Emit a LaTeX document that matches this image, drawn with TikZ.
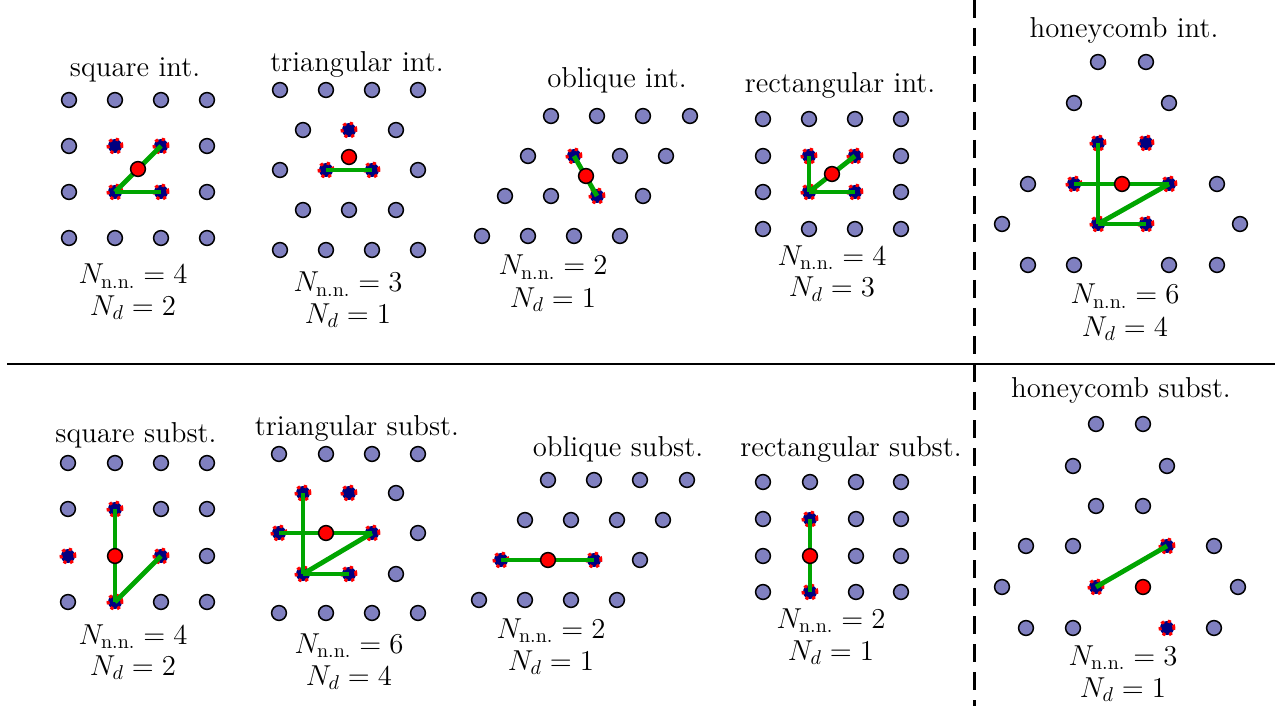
\documentclass[tikz,border=0pt]{standalone}
\usepackage{amsmath}
\definecolor{sitefill}{RGB}{128,128,192}
\definecolor{navyfill}{RGB}{0,0,128}
\definecolor{bondgreen}{RGB}{0,165,0}
\tikzset{
  site/.style={circle, draw=black, fill=sitefill, line width=0.75pt, minimum size=7.4pt, inner sep=0pt},
  nnsite/.style={circle, draw=red, fill=navyfill, dash pattern=on 1.6pt off 1.9pt, line width=1.5pt, minimum size=7pt, inner sep=0pt},
  defect/.style={circle, draw=black, fill=red, line width=0.75pt, minimum size=7.4pt, inner sep=0pt},
  bond/.style={draw=bondgreen, line width=2.4pt},
  ttl/.style={anchor=base, inner sep=0pt, font=\Large},
  eqn/.style={anchor=base, inner sep=0pt, font=\Large},
}
\begin{document}
\begin{tikzpicture}[x=0.5pt, y=-0.5pt]
\useasboundingbox (0,0) rectangle (1282,706);

% separators
\coordinate (hl) at (7,364);
\coordinate (hr) at (1275,364);
\coordinate (vt) at (974,0);
\coordinate (vb) at (974,706);
\draw[line width=1pt] (hl) -- (hr);
\draw[line width=1.5pt, dash pattern=on 9pt off 5pt] (vt) -- (vb);

% ---------- Panel 1: square int.
\foreach \x/\y [count=\k] in {69/100,115/100,161/100,207/100,69/146,207/146,69/192,207/192,69/238,115/238,161/238,207/238}
  \node[site] (a\k) at (\x,\y) {};
\node[nnsite] (a1n1) at (115,146) {};
\node[nnsite] (a1n2) at (161,146) {};
\node[nnsite] (a1n3) at (115,192) {};
\node[nnsite] (a1n4) at (161,192) {};
\draw[bond] (a1n3.center) -- (a1n2.center);
\draw[bond] (a1n3.center) -- (a1n4.center);
\node[defect] (a1d) at (138,169) {};
\node[ttl] (a1t) at (135,77) {square int.};
\node[eqn] (a1e) at (133,284) {$N_{\mathrm{n.n.}}=4$};
\node[eqn] (a1f) at (133,315) {$N_d=2$};

% ---------- Panel 2: triangular int.
\foreach \x/\y [count=\k] in {280/90,326/90,372/90,418/90,303/130,396/130,280/170,418/170,303/210,349/210,396/210,280/250,326/250,372/250,418/250}
  \node[site] (b\k) at (\x,\y) {};
\node[nnsite] (b1n1) at (349,130) {};
\node[nnsite] (b1n2) at (326,170) {};
\node[nnsite] (b1n3) at (372,170) {};
\draw[bond] (b1n2.center) -- (b1n3.center);
\node[defect] (b1d) at (349,157) {};
\node[ttl] (b1t) at (357,72) {triangular int.};
\node[eqn] (b1e) at (348,292) {$N_{\mathrm{n.n.}}=3$};
\node[eqn] (b1f) at (348,323) {$N_d=1$};

% ---------- Panel 3: oblique int.
\foreach \x/\y [count=\k] in {551/116,597/116,643/116,690/116,528/156,620/156,666/156,505/196,551/196,643/196,482/236,528/236,574/236,620/236}
  \node[site] (c\k) at (\x,\y) {};
\node[nnsite] (c1n1) at (574,156) {};
\node[nnsite] (c1n2) at (597,196) {};
\draw[bond] (c1n1.center) -- (c1n2.center);
\node[defect] (c1d) at (586,176) {};
\node[ttl] (c1t) at (617,88) {oblique int.};
\node[eqn] (c1e) at (553,275) {$N_{\mathrm{n.n.}}=2$};
\node[eqn] (c1f) at (553,307) {$N_d=1$};

% ---------- Panel 4: rectangular int.
\foreach \x/\y [count=\k] in {763/119,809/119,855/119,901/119,763/156,901/156,763/192,901/192,763/229,809/229,855/229,901/229}
  \node[site] (d\k) at (\x,\y) {};
\node[nnsite] (d1n1) at (809,156) {};
\node[nnsite] (d1n2) at (855,156) {};
\node[nnsite] (d1n3) at (809,192) {};
\node[nnsite] (d1n4) at (855,192) {};
\draw[bond] (d1n3.center) -- (d1n1.center);
\draw[bond] (d1n3.center) -- (d1n2.center);
\draw[bond] (d1n3.center) -- (d1n4.center);
\node[defect] (d1d) at (832,174) {};
\node[ttl] (d1t) at (840,93) {rectangular int.};
\node[eqn] (d1e) at (832,265) {$N_{\mathrm{n.n.}}=4$};
\node[eqn] (d1f) at (832,297) {$N_d=3$};

% ---------- Panel 5: honeycomb int.
\foreach \x/\y [count=\k] in {1098/62,1146/62,1074/103,1169/103,1028/184,1217/184,1002/224,1240/224,1028/265,1074/265,1169/265,1217/265}
  \node[site] (e\k) at (\x,\y) {};
\node[nnsite] (e1n1) at (1098,143) {};
\node[nnsite] (e1n2) at (1146,143) {};
\node[nnsite] (e1n3) at (1074,184) {};
\node[nnsite] (e1n4) at (1169,184) {};
\node[nnsite] (e1n5) at (1098,224) {};
\node[nnsite] (e1n6) at (1146,224) {};
\draw[bond] (e1n1.center) -- (e1n5.center);
\draw[bond] (e1n3.center) -- (e1n4.center);
\draw[bond] (e1n5.center) -- (e1n4.center);
\draw[bond] (e1n5.center) -- (e1n6.center);
\node[defect] (e1d) at (1122,184) {};
\node[ttl] (e1t) at (1124,38) {honeycomb int.};
\node[eqn] (e1e) at (1125,304) {$N_{\mathrm{n.n.}}=6$};
\node[eqn] (e1f) at (1125,336) {$N_d=4$};

% ---------- Panel 6: square subst.
\foreach \x/\y [count=\k] in {68/463,115/463,161/463,207/463,68/509,161/509,207/509,207/556,68/602,161/602,207/602}
  \node[site] (f\k) at (\x,\y) {};
\node[nnsite] (f1n1) at (115,509) {};
\node[nnsite] (f1n2) at (68,556) {};
\node[nnsite] (f1n3) at (161,556) {};
\node[nnsite] (f1n4) at (115,602) {};
\draw[bond] (f1n1.center) -- (f1n4.center);
\draw[bond] (f1n4.center) -- (f1n3.center);
\node[defect] (f1d) at (115,556) {};
\node[ttl] (f1t) at (136,443) {square subst.};
\node[eqn] (f1e) at (133,644) {$N_{\mathrm{n.n.}}=4$};
\node[eqn] (f1f) at (133,675) {$N_d=2$};

% ---------- Panel 7: triangular subst.
\foreach \x/\y [count=\k] in {279/454,326/454,372/454,418/454,396/493,418/533,396/574,279/613,326/613,372/613,418/613}
  \node[site] (g\k) at (\x,\y) {};
\node[nnsite] (g1n1) at (303,493) {};
\node[nnsite] (g1n2) at (349,493) {};
\node[nnsite] (g1n3) at (279,533) {};
\node[nnsite] (g1n4) at (372,533) {};
\node[nnsite] (g1n5) at (303,574) {};
\node[nnsite] (g1n6) at (349,574) {};
\draw[bond] (g1n1.center) -- (g1n5.center);
\draw[bond] (g1n3.center) -- (g1n4.center);
\draw[bond] (g1n5.center) -- (g1n4.center);
\draw[bond] (g1n5.center) -- (g1n6.center);
\node[defect] (g1d) at (326,533) {};
\node[ttl] (g1t) at (357,436) {triangular subst.};
\node[eqn] (g1e) at (349,653) {$N_{\mathrm{n.n.}}=6$};
\node[eqn] (g1f) at (349,685) {$N_d=4$};

% ---------- Panel 8: oblique subst.
\foreach \x/\y [count=\k] in {548/480,594/480,640/480,687/480,525/520,571/520,617/520,663/520,640/560,479/600,525/600,571/600,617/600}
  \node[site] (h\k) at (\x,\y) {};
\node[nnsite] (h1n1) at (501,560) {};
\node[nnsite] (h1n2) at (594,560) {};
\draw[bond] (h1n1.center) -- (h1n2.center);
\node[defect] (h1d) at (548,560) {};
\node[ttl] (h1t) at (618,456) {oblique subst.};
\node[eqn] (h1e) at (551,638) {$N_{\mathrm{n.n.}}=2$};
\node[eqn] (h1f) at (551,670) {$N_d=1$};

% ---------- Panel 9: rectangular subst.
\foreach \x/\y [count=\k] in {763/482,810/482,856/482,901/482,763/519,856/519,901/519,763/556,856/556,901/556,763/592,856/592,901/592}
  \node[site] (i\k) at (\x,\y) {};
\node[nnsite] (i1n1) at (810,519) {};
\node[nnsite] (i1n2) at (810,592) {};
\draw[bond] (i1n1.center) -- (i1n2.center);
\node[defect] (i1d) at (810,556) {};
\node[ttl] (i1t) at (851,456) {rectangular subst.};
\node[eqn] (i1e) at (831,628) {$N_{\mathrm{n.n.}}=2$};
\node[eqn] (i1f) at (831,660) {$N_d=1$};

% ---------- Panel 10: honeycomb subst.
\foreach \x/\y [count=\k] in {1096/424,1143/424,1073/466,1167/466,1096/506,1143/506,1026/546,1073/546,1214/546,1002/587,1238/587,1026/628,1073/628,1214/628}
  \node[site] (j\k) at (\x,\y) {};
\node[nnsite] (j1n1) at (1167,546) {};
\node[nnsite] (j1n2) at (1096,587) {};
\node[nnsite] (j1n3) at (1167,628) {};
\draw[bond] (j1n2.center) -- (j1n1.center);
\node[defect] (j1d) at (1143,587) {};
\node[ttl] (j1t) at (1121,398) {honeycomb subst.};
\node[eqn] (j1e) at (1123,665) {$N_{\mathrm{n.n.}}=3$};
\node[eqn] (j1f) at (1123,697) {$N_d=1$};
\end{tikzpicture}
\end{document}
